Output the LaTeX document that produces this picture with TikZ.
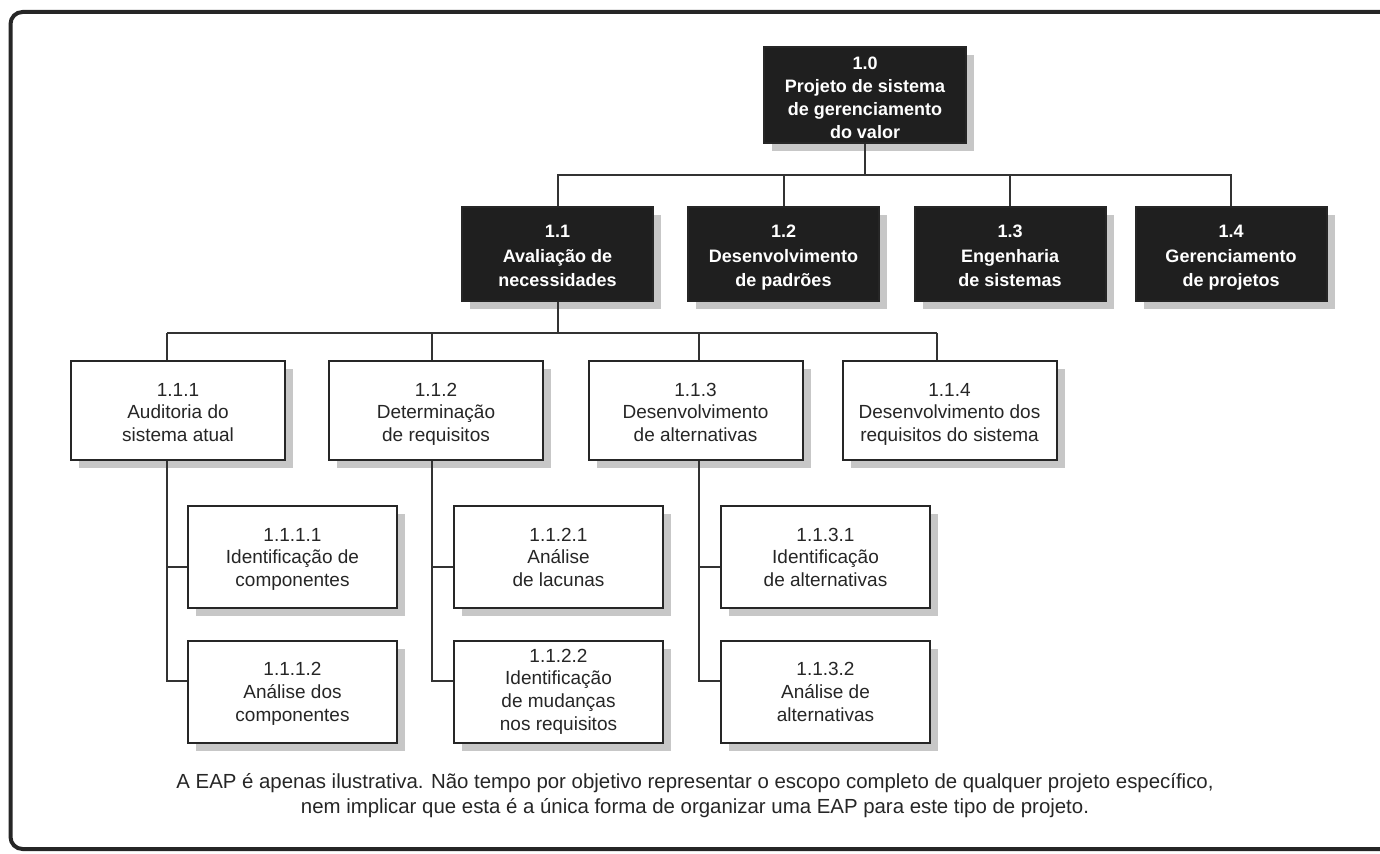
\documentclass[tikz,border=0pt]{standalone}
\usepackage{fontspec}
\setmainfont{Liberation Sans}
\usetikzlibrary{positioning, shadows, calc}

\begin{document}
\begin{tikzpicture}[
		x=0.5pt, y=-0.5pt,
		every box/.style={rectangle, draw=black!85, line width=1pt, align=center, inner sep=0pt, text depth=0pt,
			drop shadow={shadow xshift=4pt, shadow yshift=-4pt, fill=black!22, opacity=1}},
		darkbox/.style={every box, fill=black!88, text=white, font=\bfseries\fontsize{9}{12.3}\selectfont},
		topbox/.style={darkbox, font=\bfseries\fontsize{9}{11.6}\selectfont, text height=43.5pt,
			minimum width=101pt, minimum height=48pt},
		mainbox/.style={darkbox, text height=33pt, minimum width=95.5pt, minimum height=47pt},
		subbox/.style={every box, fill=white, text=black!85, font=\fontsize{9.5}{11.3}\selectfont,
			text height=31pt, minimum width=107pt, minimum height=49.5pt},
		leafbox/.style={subbox, text height=29pt, minimum width=104.5pt, minimum height=51pt},
		link/.style={draw=black!80, line width=1pt}
	]

	% frame
	\useasboundingbox (0,0) rectangle (1380,854);
	\begin{scope}
		\clip (0,0) rectangle (1380,854);
		\draw [line width=2pt, rounded corners=6pt, black!85] (10.5,12) rectangle (1400,849);
	\end{scope}

	% level 0 and 1
	\node [topbox] (n10) at (865,95.5) {1.0\\Projeto de sistema\\de gerenciamento\\do valor};

	\foreach \m/\x/\t in {11/557.5/{Avaliação de\\necessidades},
			12/783.5/{Desenvolvimento\\de padrões},
			13/1010/{Engenharia\\de sistemas},
			14/1231/{Gerenciamento\\de projetos}}
		\node [mainbox] (n\m) at (\x,254) {1.\the\numexpr\m-10\relax\\\t};

	\coordinate (bus1) at (0,175);
	\foreach \m in {11, 12, 13, 14}
		\draw [link] (n10.south) -- (n10.south |- bus1) -| (n\m.north);

	% level 2
	\node [subbox] (n111) at (178,410.5) {1.1.1\\Auditoria do\\sistema atual};
	\node [subbox] (n112) at (436,410.5) {1.1.2\\Determinação\\de requisitos};
	\node [subbox] (n113) at (695.5,410.5) {1.1.3\\Desenvolvimento\\de alternativas};
	\node [subbox] (n114) at (949.5,410.5) {1.1.4\\Desenvolvimento dos\\requisitos do sistema};

	\coordinate (d111) at (167,333);
	\coordinate (d112) at (432,333);
	\coordinate (d113) at (699,333);
	\coordinate (d114) at (937,333);

	\draw [link] (n11.south) -- (n11.south |- d111);
	\draw [link] (d111) -- (d114);
	\foreach \m in {111, 112, 113, 114}
		\draw [link] (d\m) -- (d\m |- n\m.north);

	% level 3
	\node [leafbox] (n1111) at (292.5,557.5) {1.1.1.1\\Identificação de\\componentes};
	\node [leafbox] (n1112) at (292.5,692) {1.1.1.2\\Análise dos\\componentes};
	\node [leafbox] (n1121) at (558.5,557.5) {1.1.2.1\\Análise\\de lacunas};
	\node [leafbox, text height=38pt] (n1122) at (558.5,692) {1.1.2.2\\Identificação\\de mudanças\\nos requisitos};
	\node [leafbox] (n1131) at (825.5,557.5) {1.1.3.1\\Identificação\\de alternativas};
	\node [leafbox] (n1132) at (825.5,692) {1.1.3.2\\Análise de\\alternativas};

	\foreach \m in {111, 112, 113} {
		\draw [link] (d\m |- n\m.south) |- ([yshift=5.5pt]n\m2.west);
		\draw [link] (d\m |- n\m1.west) ++(0,10) -- ([yshift=-5pt]n\m1.west);
	}

	% note
	\node [align=center, text=black!85, font=\fontsize{10.2}{12.5}\selectfont] (note) at (695,796)
		{A EAP é apenas ilustrativa. Não tempo por objetivo representar o escopo completo de qualquer projeto específico,\\
		nem implicar que esta é a única forma de organizar uma EAP para este tipo de projeto.};
\end{tikzpicture}
\end{document}
